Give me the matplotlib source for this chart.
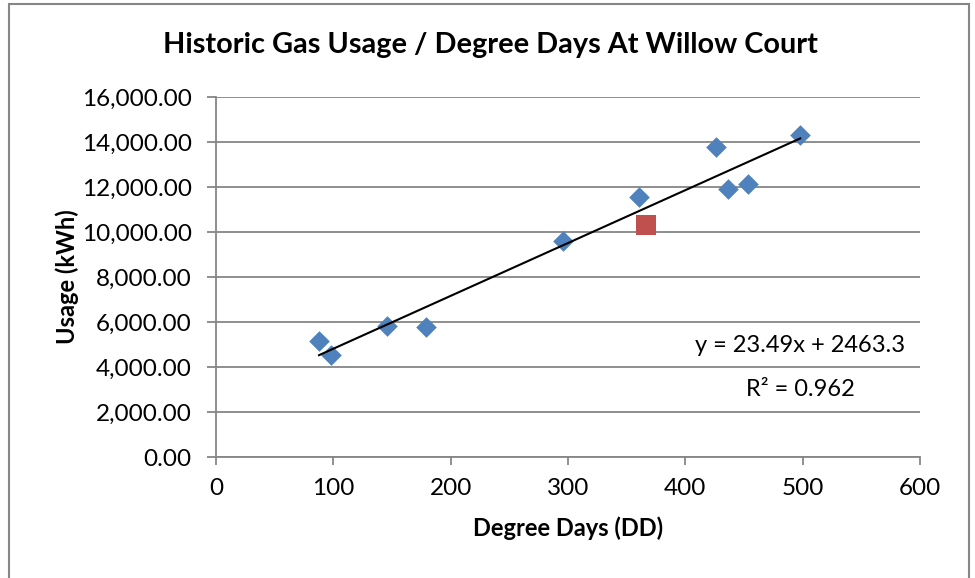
import matplotlib
matplotlib.use('Agg')
import matplotlib.pyplot as plt
from matplotlib.patches import Rectangle
from matplotlib.ticker import FuncFormatter

plt.rcParams['font.family'] = ['Lato', 'DejaVu Sans']

# historic readings (degree days, kWh)
dd = [87.8, 98.0, 145.6, 178.9, 295.7, 360.1, 426.4, 436.7, 453.7, 497.9]
usage = [5146, 4513, 5810, 5796, 9602, 11535, 13774, 11916, 12137, 14292]
# current reading
dd_now = [366.8]
usage_now = [10310]
# trendline from the chart label
slope = 23.49
intercept = 2463.3
r2 = 0.962

grey = '#868686'

fig = plt.figure(figsize=(9.75, 5.78), dpi=100)
ax = fig.add_axes([216/975, 1-457/578, (920-216)/975, (457-97)/578])

ax.set_xlim(0, 600)
ax.set_ylim(0, 16000)
ax.set_xticks(range(0, 601, 100))
ax.set_yticks(range(0, 16001, 2000))
ax.yaxis.set_major_formatter(FuncFormatter(lambda v, p: '{:,.2f}'.format(v)))
ax.grid(axis='y', color=grey, lw=1.3)
ax.set_axisbelow(True)
for s in ['top', 'right']:
    ax.spines[s].set_visible(False)
for s in ['left', 'bottom']:
    ax.spines[s].set_color(grey)
    ax.spines[s].set_linewidth(1.3)
ax.tick_params(axis='y', length=6.5, width=1.3, color=grey, pad=11, labelsize=17.5)
ax.tick_params(axis='x', length=5.8, width=1.3, color=grey, pad=9, labelsize=17.5)

ax.scatter(dd, usage, marker='D', s=10.5**2, color='#4F81BD', zorder=3, linewidths=0)
ax.scatter(dd_now, usage_now, marker='s', s=14.4**2, color='#C0504D', zorder=3, linewidths=0)

xs = [min(dd), max(dd)]
ax.plot(xs, [slope*v + intercept for v in xs], color='black', lw=1.5, zorder=4)

fig.text(490/975, 1-45/578, 'Historic Gas Usage / Degree Days At Willow Court',
         ha='center', va='center', fontsize=20.8, fontweight='bold')
ax.set_xlabel('Degree Days (DD)', fontsize=17, fontweight='bold', labelpad=13)
ax.set_ylabel('Usage (kWh)', fontsize=17, fontweight='bold', labelpad=2)

fig.text(905/975, 1-345/578, 'y = {}x + {}'.format(slope, intercept),
         ha='right', va='center', fontsize=17)
fig.text(855/975, 1-390/578, 'R² = {}'.format(r2),
         ha='right', va='center', fontsize=17)

fig.patches.append(Rectangle((9/975, -0.05), 960/975, 1.05-4/578,
                             transform=fig.transFigure, fill=False,
                             edgecolor=grey, lw=1.5))

fig.savefig('out.png', dpi=100)
